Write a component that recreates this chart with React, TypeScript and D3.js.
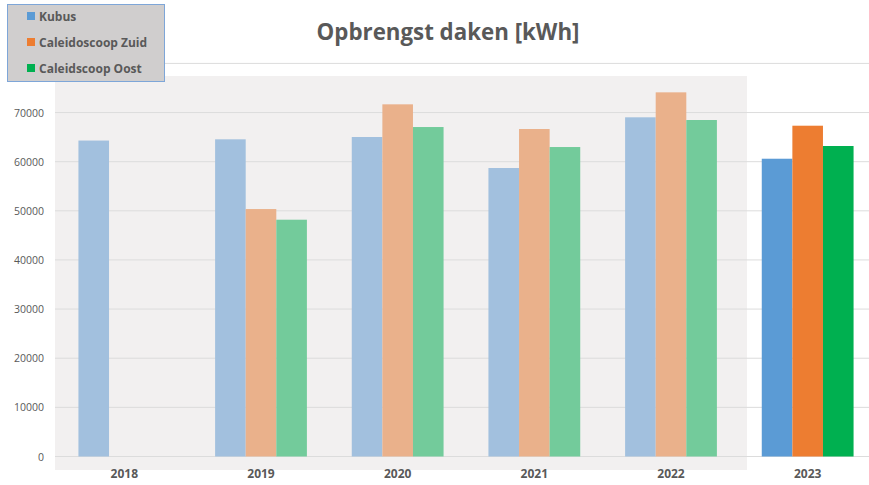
import React from "react";
import * as d3 from "d3";

const years = ["2018", "2019", "2020", "2021", "2022", "2023"];
const seriesNames = ["Kubus", "Caleidoscoop Zuid", "Caleidscoop Oost"];
const kubus = [64300, 64550, 65020, 58710, 69030, 60600];
const zuid = [null, 50360, 71670, 66650, 74110, 67320];
const oost = [null, 48190, 67050, 62980, 68480, 63190];
const gridTicks = [0, 10000, 20000, 30000, 40000, 50000, 60000, 70000, 80000];
const labelTicks = [0, 10000, 20000, 30000, 40000, 50000, 60000, 70000];
const fadedColors = ["#a2c0de", "#eab18b", "#73cb9b"];
const strongColors = ["#5b9bd5", "#ed7d31", "#00b050"];

const W = 869;
const H = 485;

export default function App() {
  const x = d3.scaleBand<string>().domain(years).range([56, 876]);
  const y = d3.scaleLinear().domain([0, 80000]).range([456.5, 63.4]);
  const series = [kubus, zuid, oost];
  const barW = 30.6;
  const text = "#595959";
  const font = "'Open Sans', Calibri, sans-serif";

  return (
    <svg width={W} height={H} style={{ position: "absolute", left: 0, top: 0 }}>
      <rect x={0} y={0} width={W} height={H} fill="#ffffff" />
      <rect x={55} y={76} width={692} height={394} fill="#f2f0f0" />
      {gridTicks.map((t) => (
        <line key={t} x1={55} x2={W} y1={y(t)} y2={y(t)} stroke="#dcdcdc" strokeWidth={1} />
      ))}
      {labelTicks.map((t) => (
        <text key={t} x={44} y={y(t) + 4} textAnchor="end" fontFamily={font} fontSize={10.5} fill={text}>
          {t}
        </text>
      ))}
      {years.map((yr, i) => {
        const c = (x(yr) as number) + x.bandwidth() / 2;
        const colors = yr === "2023" ? strongColors : fadedColors;
        return (
          <g key={yr}>
            {series.map((s, k) => {
              const v = s[i];
              if (v == null) return null;
              const bx = c - (barW * 3) / 2 + k * barW;
              return (
                <rect key={k} x={bx} y={y(v)} width={barW} height={y(0) - y(v)} fill={colors[k]} />
              );
            })}
            <text x={c} y={478} textAnchor="middle" fontFamily={font} fontWeight="bold" fontSize={12} fill={text}>
              {yr}
            </text>
          </g>
        );
      })}
      <text x={448} y={40} textAnchor="middle" fontFamily={font} fontWeight="bold" fontSize={22.3} fill={text}>
        Opbrengst daken [kWh]
      </text>
      <rect x={7.5} y={4.5} width={157} height={77} fill="#d0cece" stroke="#7ea6d8" strokeWidth={1} />
      {seriesNames.map((n, k) => (
        <g key={n}>
          <rect x={27} y={12 + k * 26} width={8} height={8} fill={strongColors[k]} />
          <text x={39} y={20.5 + k * 26} fontFamily={font} fontWeight="bold" fontSize={12} fill={text}>
            {n}
          </text>
        </g>
      ))}
    </svg>
  );
}
